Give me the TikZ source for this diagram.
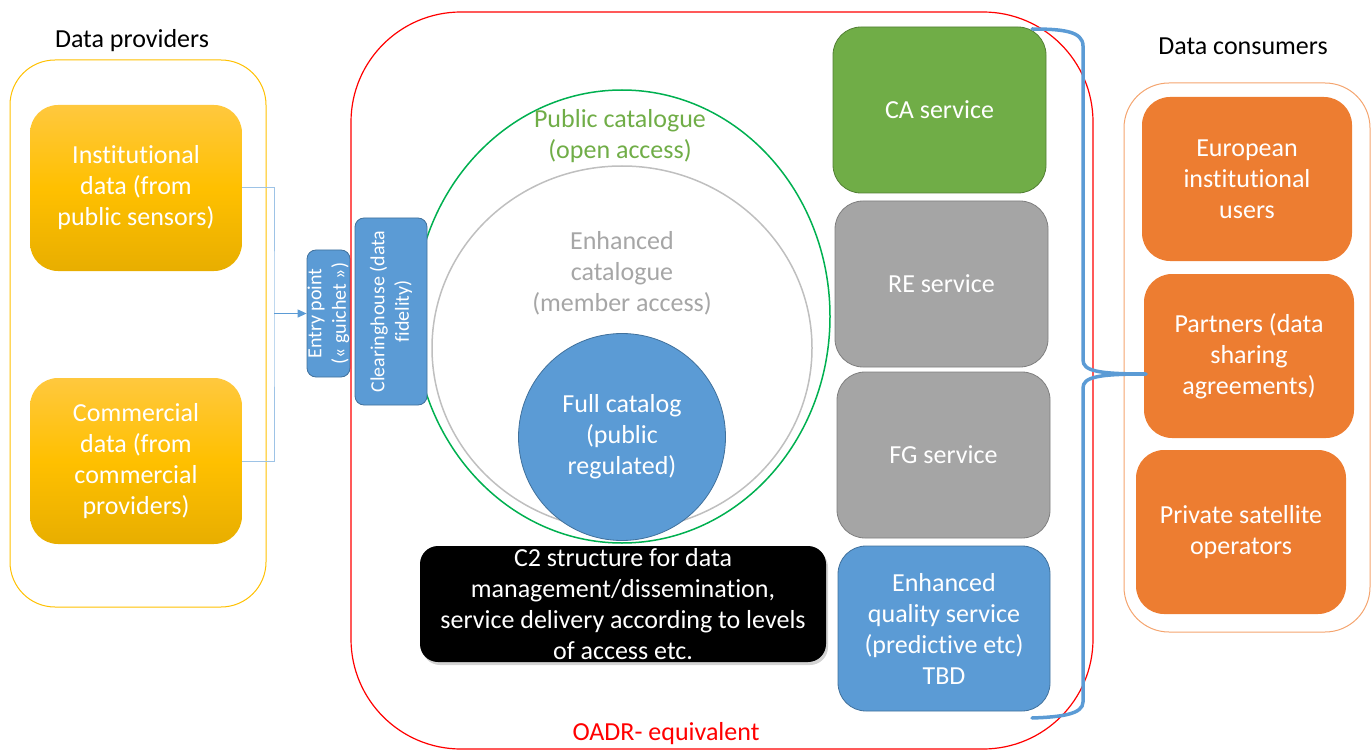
\documentclass[tikz,border=0pt]{standalone}
\usepackage{fontspec}
\setmainfont{Carlito}[RawFeature={-liga;-clig;-calt;-dlig}]
\usetikzlibrary{arrows.meta,shadows}
\definecolor{ytop}{HTML}{FFC83E}
\definecolor{ymid}{HTML}{FFC000}
\definecolor{ybot}{HTML}{E8AE00}
\definecolor{yline}{HTML}{FFC000}
\definecolor{cgreen}{HTML}{70AD47}
\definecolor{cgreenD}{HTML}{527F34}
\definecolor{cgray}{HTML}{A5A5A5}
\definecolor{cgrayD}{HTML}{7F7F7F}
\definecolor{cblue}{HTML}{5B9BD5}
\definecolor{cblueD}{HTML}{41719C}
\definecolor{cblueL}{HTML}{9DC3E6}
\definecolor{corange}{HTML}{ED7D31}
\definecolor{corangeL}{HTML}{F4A46E}
\definecolor{ell}{HTML}{00B050}
\definecolor{gell}{HTML}{BFBFBF}
\definecolor{gtext}{HTML}{A6A6A6}
\definecolor{oadr}{HTML}{FF0000}
\tikzset{
  box/.style={rounded corners=28pt, align=center, text=white, inner sep=0pt},
  ybox/.style={box, top color=ytop, bottom color=ybot, middle color=ymid, minimum width=212pt, minimum height=166pt},
  svc/.style={box, line width=0.8pt, minimum width=213pt, minimum height=166pt},
  obox/.style={box, fill=corange, minimum width=210pt, minimum height=164pt},
  vbox/.style={box, fill=cblue, draw=cblueD, line width=0.8pt, rounded corners=9pt, font=\fontsize{20}{24.5}\selectfont},
  container/.style={rounded corners=45pt, line width=1pt},
  title/.style={text=black},
  feed/.style={draw=cblueL, line width=1pt},
  brace/.style={draw=cblue, line width=3.5pt, line cap=round, line join=round}
}
\begin{document}
\begin{tikzpicture}[x=1pt,y=-1pt, font=\fontsize{26}{31}\selectfont]
\useasboundingbox (0,0) rectangle (1372,751);

% containers
\draw[container, draw=yline] (10,60) rectangle (266,607);
\draw[container, draw=corangeL] (1124,83) rectangle (1370,632);

\node[title] (prov) at (132,41) {Data providers};
\node[title] (cons) at (1243,46) {Data consumers};

% catalogue ellipses
\draw[draw=ell, line width=1.5pt] (622,316.5) ellipse [x radius=208, y radius=226.5];
\draw[draw=gell, line width=1.5pt] (622,348) ellipse [x radius=190, y radius=182];
\node[text=cgreen, align=center] (pub) at (620,136) {Public catalogue\\(open access)};
\node[text=gtext, align=center] (enh) at (622,273) {Enhanced\\catalogue\\(member access)};
\node[circle, fill=cblue, draw=cblueD, line width=0.8pt, minimum size=207pt, inner sep=0pt, text=white, align=center] (full) at (622,437) {Full catalog\\(public\\regulated)};

% providers
\node[ybox] (inst) at (136,188) {Institutional\\data (from\\public sensors)};
\node[ybox] (comm) at (136,461) {Commercial\\data (from\\commercial\\providers)};

% entry / clearinghouse
\node[vbox, rotate=90, minimum width=127pt, minimum height=43pt] (entry) at (328.5,313.5) {Entry point\\(« guichet »)};
\node[vbox, rotate=90, minimum width=187pt, minimum height=72pt] (clear) at (391,311.5) {Clearinghouse (data\\fidelity)};

\coordinate (j) at (274,313.5);
\draw[feed] (inst.east) -| (j) |- (comm.east);
\draw[draw=cblue, line width=1.2pt, -{Triangle[length=9pt,width=8pt]}] (j) -- (entry.north);

% C2
\node[box, fill=black, rounded corners=18pt, minimum width=406pt, minimum height=116pt, drop shadow={opacity=0.35, shadow xshift=2pt, shadow yshift=-3pt}] (c2) at (623,604) {C2 structure for data\\management/dissemination,\\service delivery according to levels\\of access etc.};

% services
\node[svc, fill=cgreen, draw=cgreenD] (ca) at (939.5,110) {CA service};
\node[svc, fill=cgray, draw=cgrayD] (re) at (941.5,284) {RE service};
\node[svc, fill=cgray, draw=cgrayD] (fg) at (943.5,455) {FG service};
\node[svc, fill=cblue, draw=cblueD, minimum width=212pt, minimum height=165pt] (eq) at (944,628.5) {Enhanced\\quality service\\(predictive etc)\\TBD};

% consumers
\node[obox] (eu) at (1247,179) {European\\institutional\\users};
\node[obox] (pa) at (1249,356) {Partners (data\\sharing\\agreements)};
\node[obox] (pr) at (1241,532) {Private satellite\\operators};

% OADR outline
\draw[draw=oadr, line width=1.2pt, rounded corners=110pt] (351,12) rectangle (1093,749);
\node[text=oadr] (oadrl) at (666,734) {OADR- equivalent};

% brace
\coordinate (b1) at (1032,29);
\coordinate (b2) at (1032,718);
\coordinate (tip) at (1146,374);
\draw[brace] (b1) .. controls (1062,29) and (1083,31) .. (1083,46) -- (1083,360)
  .. controls (1083,371) and (1098,374) .. (tip)
  .. controls (1098,374) and (1083,377) .. (1083,388) -- (1083,702)
  .. controls (1083,714) and (1062,717) .. (b2);
\end{tikzpicture}
\end{document}
